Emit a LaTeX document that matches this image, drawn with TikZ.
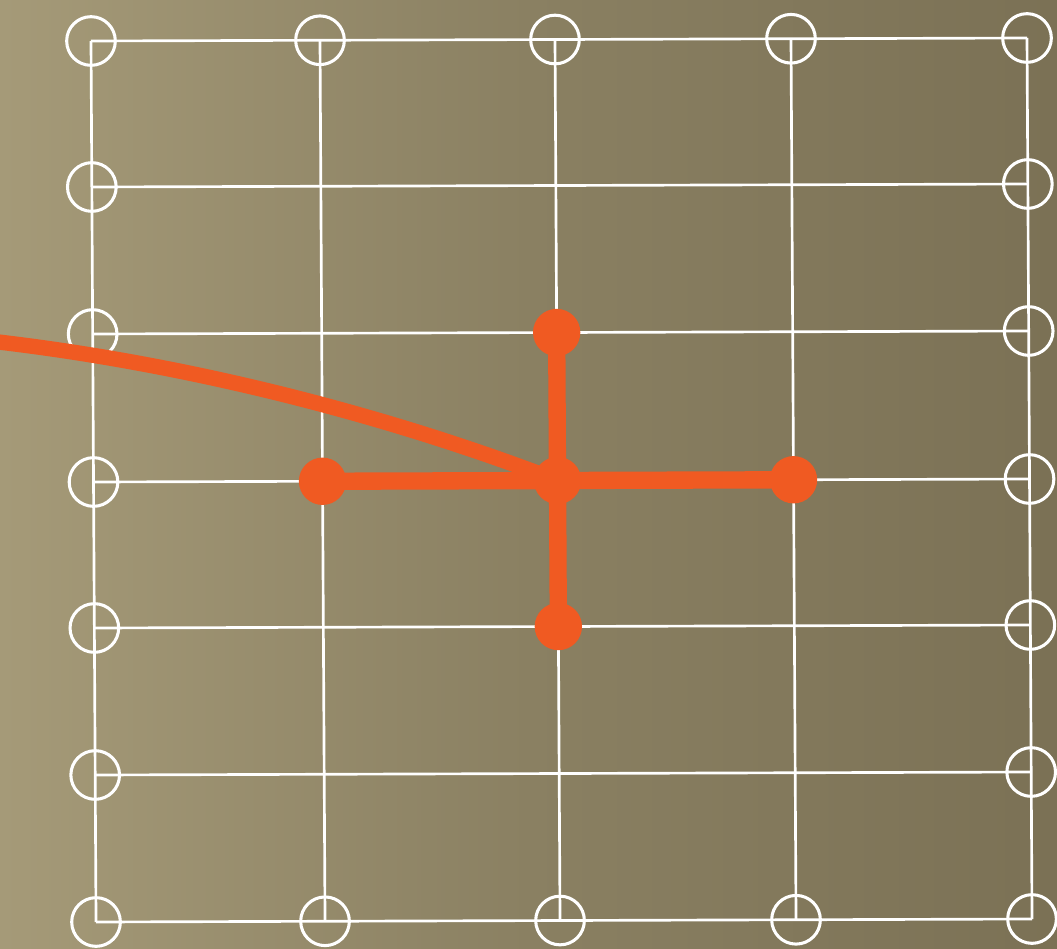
\documentclass[tikz,border=0pt]{standalone}
\usetikzlibrary{calc}
\definecolor{bgleft}{HTML}{A59A78}
\definecolor{bgmid}{HTML}{8A8062}
\definecolor{bgright}{HTML}{7B7155}
\definecolor{accent}{HTML}{F05A22}
\tikzset{
  gridline/.style={draw=white, line width=2pt},
  ring/.style={circle, draw=white, line width=2.3pt, minimum size=36.5pt, inner sep=0pt, fill=none},
  dot/.style={circle, fill=accent, minimum size=35.5pt, inner sep=0pt},
  bar/.style={draw=accent, line width=13pt},
  wire/.style={draw=accent, line width=11.5pt},
}
\begin{document}
\begin{tikzpicture}[x=0.75pt, y=-0.75pt]
\useasboundingbox (0,0) rectangle (1057,949);
\shade[left color=bgleft, right color=bgright, middle color=bgmid] (0,0) rectangle (1057,949);
% grid intersections
\foreach \i/\x in {0/91,1/320,2/555,3/791,4/1027}{
  \foreach \j/\y in {0/41,1/187,2/334,3/482,4/628,5/775,6/922}{
    \coordinate (g-\i-\j) at ({\x+0.0057*(\y-41)},{\y-0.0032*(\x-91)});
  }
}
% vertical lines
\foreach \i in {0,...,4}{\draw[gridline] (g-\i-0) -- (g-\i-6);}
% horizontal lines
\foreach \j in {0,...,6}{\draw[gridline] (g-0-\j) -- (g-4-\j);}
% rings on the border
\foreach \i in {0,...,4}{
  \node[ring] (rt-\i) at (g-\i-0) {};
  \node[ring] (rb-\i) at (g-\i-6) {};
}
\foreach \j in {1,...,5}{
  \node[ring] (rl-\j) at (g-0-\j) {};
  \node[ring] (rr-\j) at (g-4-\j) {};
}
% orange cross
\coordinate (start) at (-10,341);
\coordinate (ctrpt) at (g-2-3);
\draw[wire] (start) .. controls (200,365) and (400,420) .. (ctrpt);
\draw[bar] (g-2-2) -- (g-2-4);
\draw[bar] (g-1-3) -- (g-3-3);
\node[dot] (ctr) at (g-2-3) {};
\node[dot] (top) at (g-2-2) {};
\node[dot] (bot) at (g-2-4) {};
\node[dot] (lft) at (g-1-3) {};
\node[dot] (rgt) at (g-3-3) {};
\end{tikzpicture}
\end{document}
